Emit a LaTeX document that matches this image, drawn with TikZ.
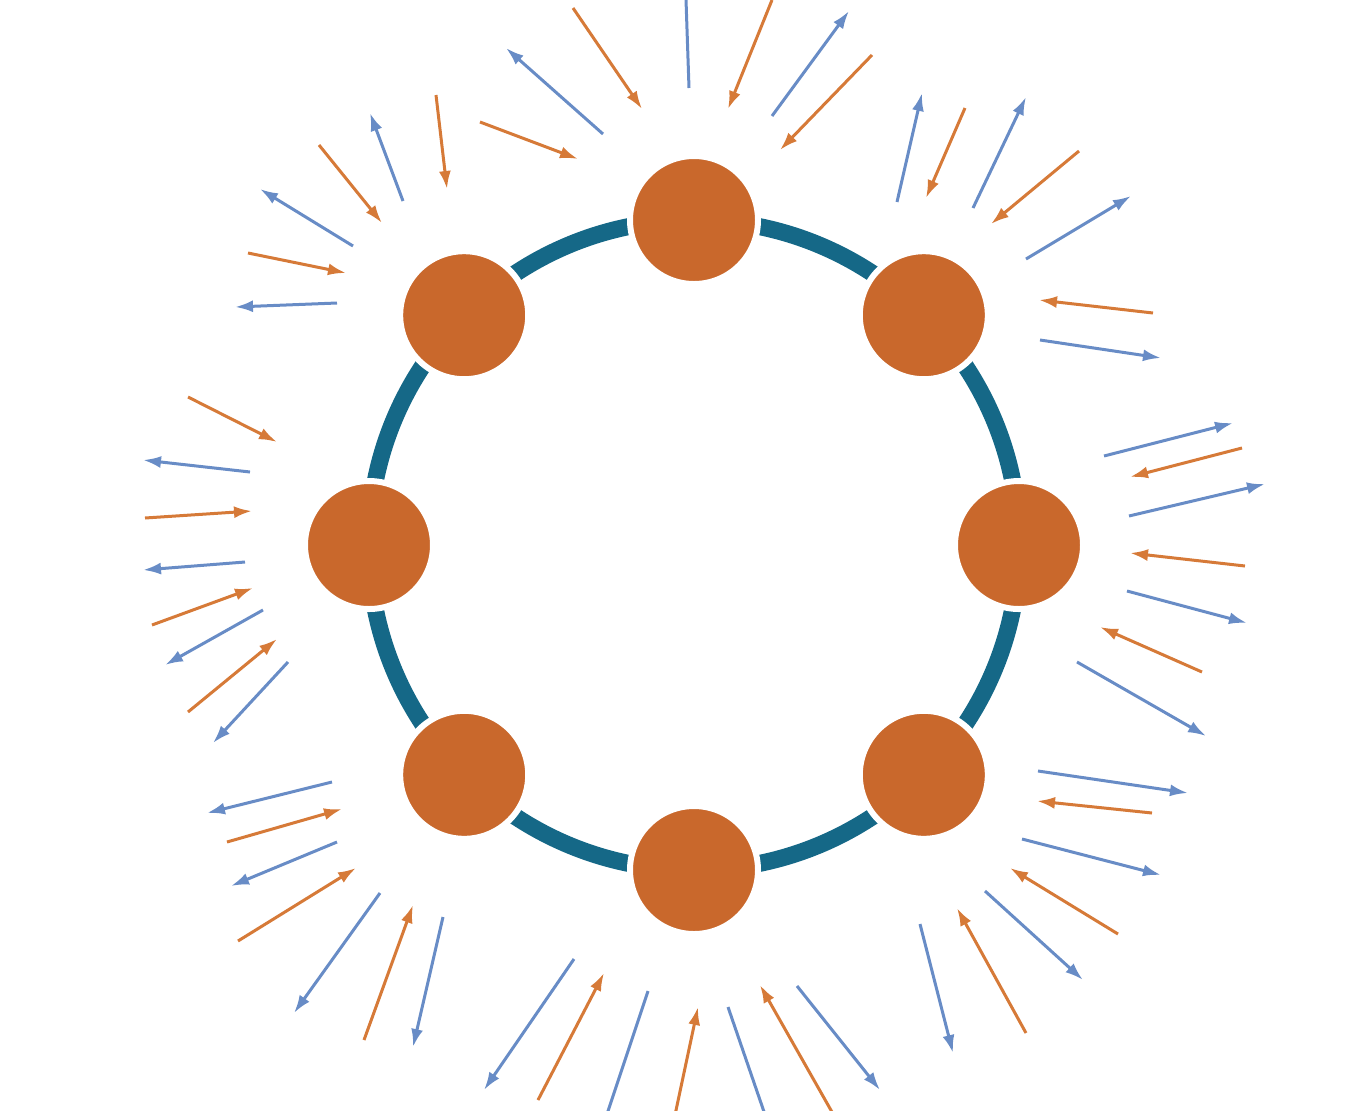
\documentclass[tikz,border=0pt]{standalone}
\usetikzlibrary{arrows.meta,calc}
\definecolor{beadorange}{RGB}{201,104,44}
\definecolor{ringteal}{RGB}{21,104,135}
\definecolor{outblue}{RGB}{104,140,198}
\definecolor{inorange}{RGB}{214,122,56}

\begin{document}
\begin{tikzpicture}[x=.5pt,y=-.5pt,>=Latex,
  ring/.style={line width=8.5pt,ringteal},
  bead/.style={circle,inner sep=0pt,minimum size=64pt,fill=beadorange,draw=white,line width=3pt},
  outflow/.style={->,line width=1.5pt,outblue,>={Latex[length=9pt,width=6pt]}},
  inflow/.style={->,line width=1.5pt,inorange,>={Latex[length=9pt,width=6pt]}}]
 \useasboundingbox (0,0) rectangle (1350,1110);
 \clip (0,0) rectangle (1350,1110);
 \coordinate (ctr) at (694,545);
 \draw[ring] (ctr) circle (325);
 \foreach \k in {0,...,7}{
  \node[bead] (b\k) at ($(ctr)+(-90+45*\k:325)$) {};
 }
 \foreach \xa/\ya/\xb/\yb in {603/134/506/48, 689/88/685/-30, 772/116/849/11,
   897/202/922/93, 973/208/1026/97, 1026/259/1131/196, 1040/340/1161/358,
   1104/456/1233/423, 1129/516/1265/484, 1127/591/1247/623, 1077/662/1206/736,
   1038/771/1188/793, 1022/839/1161/875, 985/891/1083/980, 920/924/953/1053,
   797/986/880/1090, 728/1007/772/1135, 648/991/600/1135, 574/959/484/1090,
   443/917/413/1047, 380/893/294/1013, 337/842/231/886, 332/782/207/813,
   288/662/213/743, 263/610/165/665, 245/562/143/570, 250/472/143/460,
   337/303/235/307, 353/246/260/189, 403/201/370/113}{
  \draw[outflow] (\xa,\ya) -- (\xb,\yb);
 }
 \foreach \xa/\ya/\xb/\yb in {573/8/642/109, 772/0/728/109, 872/55/780/150,
   965/108/926/198, 1079/151/991/224, 1153/313/1039/300, 1242/448/1130/477,
   1245/566/1130/553, 1202/672/1100/627, 1152/813/1037/801, 1118/934/1010/868,
   1026/1033/957/908, 832/1112/760/985, 675/1115/698/1007, 538/1100/604/973,
   364/1040/413/905, 238/941/356/868, 227/842/342/809, 188/712/277/639,
   152/625/253/588, 145/518/252/511, 188/397/277/442, 248/253/346/273,
   319/145/382/223, 436/95/447/189, 480/122/578/159}{
  \draw[inflow] (\xa,\ya) -- (\xb,\yb);
 }
\end{tikzpicture}
\end{document}
